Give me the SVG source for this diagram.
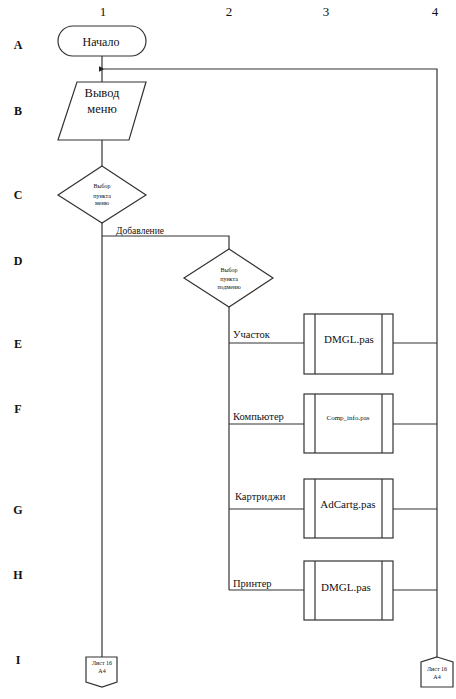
<svg xmlns="http://www.w3.org/2000/svg" width="456" height="699" viewBox="0 0 456 699">
<defs>
<marker id="arr" viewBox="0 0 10 10" refX="1" refY="5" markerWidth="6" markerHeight="6" orient="auto-start-reverse" markerUnits="userSpaceOnUse">
<path d="M10,0 L0,5 L10,10 Z" fill="#222"/>
</marker>
<style>
.s{fill:#fff;stroke:#333;stroke-width:1.2}
.l{fill:none;stroke:#333;stroke-width:1.2}
.t{font-family:"Liberation Serif","DejaVu Serif",serif;fill:#111;text-anchor:middle}
.lb{font-family:"Liberation Serif","DejaVu Serif",serif;fill:#111}
.g{font-family:"Liberation Serif","DejaVu Serif",serif;fill:#111;font-size:12px;text-anchor:middle;font-weight:bold}
.c{font-family:"Liberation Serif","DejaVu Serif",serif;fill:#111;font-size:13px;text-anchor:middle}
</style>
</defs>
<rect width="456" height="699" fill="#fff"/>
<g id="grid">
<text class="c" x="103" y="16">1</text>
<text class="c" x="229" y="16">2</text>
<text class="c" x="326" y="16">3</text>
<text class="c" x="435" y="16">4</text>
<text class="g" x="18" y="49">A</text>
<text class="g" x="18" y="115">B</text>
<text class="g" x="18" y="199">C</text>
<text class="g" x="18" y="265">D</text>
<text class="g" x="18" y="348">E</text>
<text class="g" x="18" y="413">F</text>
<text class="g" x="18" y="514">G</text>
<text class="g" x="18" y="579">H</text>
<text class="g" x="18" y="664">I</text>
</g>
<g id="connectors">
<line class="l" x1="102" y1="56" x2="102" y2="82"/>
<polyline class="l" points="437,657 437,69 104,69" marker-end="url(#arr)"/>
<line class="l" x1="102" y1="140" x2="102" y2="166"/>
<line class="l" x1="102" y1="223" x2="102" y2="657"/>
<polyline class="l" points="102,236 229,236 229,249"/>
<text class="lb" x="116" y="234" font-size="9.5">Добавление</text>
<line class="l" x1="229" y1="307" x2="229" y2="590"/>
<line class="l" x1="229" y1="343" x2="304" y2="343"/>
<line class="l" x1="393" y1="343" x2="437" y2="343"/>
<line class="l" x1="229" y1="424" x2="304" y2="424"/>
<line class="l" x1="393" y1="424" x2="437" y2="424"/>
<line class="l" x1="229" y1="509" x2="304" y2="509" stroke-width="2"/>
<line class="l" x1="393" y1="509" x2="437" y2="509" stroke-width="2"/>
<line class="l" x1="229" y1="590" x2="304" y2="590"/>
<line class="l" x1="393" y1="590" x2="437" y2="590"/>
<text class="lb" x="233" y="338" font-size="10.5">Участок</text>
<text class="lb" x="233" y="420" font-size="10.5">Компьютер</text>
<text class="lb" x="235" y="500" font-size="10.5">Картриджи</text>
<text class="lb" x="233" y="587" font-size="10.5">Принтер</text>
</g>
<g id="start">
<rect class="s" x="58" y="26" width="88" height="30" rx="15" ry="15"/>
<text class="t" x="101" y="46" font-size="12">Начало</text>
</g>
<g id="menu">
<polygon class="s" points="77,82 146,82 129,140 58,140"/>
<text class="t" x="102" y="97" font-size="12.5">Вывод</text>
<text class="t" x="102" y="113" font-size="12.5">меню</text>
</g>
<g id="choice1">
<polygon class="s" points="102,166 146,195 102,223 58,195"/>
<text class="t" x="102" y="188" font-size="6">Выбор</text>
<text class="t" x="102" y="198" font-size="6">пункта</text>
<text class="t" x="102" y="205" font-size="6">меню</text>
</g>
<g id="choice2">
<polygon class="s" points="229,249 273,278 229,307 184,278"/>
<text class="t" x="229" y="272" font-size="6">Выбор</text>
<text class="t" x="229" y="281" font-size="6">пункта</text>
<text class="t" x="229" y="289" font-size="6">подменю</text>
</g>
<g id="procE">
<rect class="s" x="304" y="314" width="89" height="60"/>
<line class="l" x1="315" y1="314" x2="315" y2="374"/>
<line class="l" x1="382" y1="314" x2="382" y2="374"/>
<text class="t" x="349" y="343" font-size="11">DMGL.pas</text>
</g>
<g id="procF">
<rect class="s" x="304" y="394" width="89" height="59"/>
<line class="l" x1="315" y1="394" x2="315" y2="453"/>
<line class="l" x1="382" y1="394" x2="382" y2="453"/>
<text class="t" x="348" y="420" font-size="7">Comp_info.pas</text>
</g>
<g id="procG">
<rect class="s" x="304" y="479" width="89" height="59"/>
<line class="l" x1="315" y1="479" x2="315" y2="538"/>
<line class="l" x1="382" y1="479" x2="382" y2="538"/>
<text class="t" x="348" y="508" font-size="11">AdCartg.pas</text>
</g>
<g id="procH">
<rect class="s" x="304" y="561" width="89" height="59"/>
<line class="l" x1="315" y1="561" x2="315" y2="620"/>
<line class="l" x1="382" y1="561" x2="382" y2="620"/>
<text class="t" x="346" y="591" font-size="11">DMGL.pas</text>
</g>
<g id="offpageLeft">
<polygon class="s" points="86,657 117,657 117,682 102,687 86,682"/>
<text class="t" x="102" y="665" font-size="6">Лист 16</text>
<text class="t" x="102" y="673" font-size="6">А4</text>
</g>
<g id="offpageRight">
<polygon class="s" points="437,657 453,662 453,687 421,687 421,662"/>
<text class="t" x="437" y="671" font-size="6">Лист 16</text>
<text class="t" x="437" y="679" font-size="6">А4</text>
</g>
</svg>
